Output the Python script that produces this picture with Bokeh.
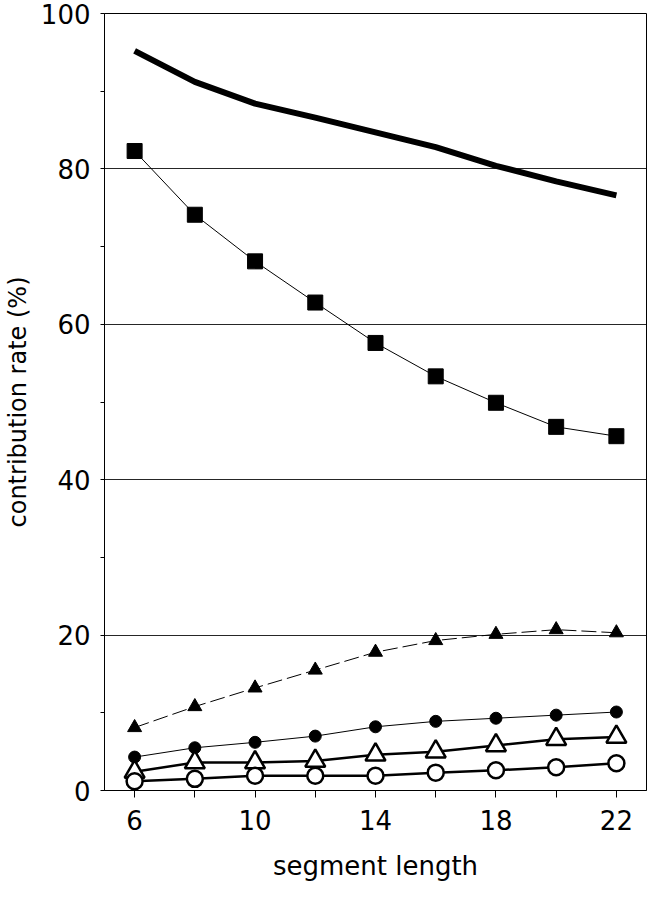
from bokeh.plotting import figure
from bokeh.models import Range1d, FixedTicker
from bokeh.embed import file_html
from bokeh.resources import INLINE

# ---- data ----
seg_len = [6, 8, 10, 12, 14, 16, 18, 20, 22]
total = [95.2, 91.2, 88.4, 86.6, 84.7, 82.8, 80.4, 78.4, 76.6]
squares = [82.3, 74.1, 68.1, 62.8, 57.6, 53.3, 49.9, 46.8, 45.6]
filled_tri = [8.1, 10.8, 13.2, 15.5, 17.8, 19.3, 20.1, 20.7, 20.3]
filled_circ = [4.3, 5.5, 6.2, 7.0, 8.2, 8.9, 9.3, 9.7, 10.1]
open_tri = [2.4, 3.6, 3.6, 3.8, 4.6, 5.0, 5.8, 6.6, 6.9]
open_circ = [1.2, 1.5, 1.9, 1.9, 1.9, 2.3, 2.6, 3.0, 3.5]

x_major = [6, 10, 14, 18, 22]
x_minor = [8, 12, 16, 20]
y_major = [0, 20, 40, 60, 80, 100]
y_minor = [10, 30, 50, 70, 90]

FONT = "DejaVu Sans"

p = figure(width=648, height=883, output_backend="svg", toolbar_location=None,
           x_range=Range1d(5, 23), y_range=Range1d(0, 100),
           min_border_left=99, min_border_right=2, min_border_top=13,
           min_border_bottom=40)
p.background_fill_color = "white"
p.border_fill_color = "white"
p.outline_line_color = "black"
p.outline_line_width = 1

# axes
p.xaxis.ticker = FixedTicker(ticks=x_major, minor_ticks=x_minor)
p.yaxis.ticker = FixedTicker(ticks=y_major, minor_ticks=y_minor)
for ax in (p.xaxis, p.yaxis):
    ax.axis_line_color = "black"
    ax.major_tick_line_color = "black"
    ax.minor_tick_line_color = "black"
    ax.major_tick_in = 0
    ax.minor_tick_in = 0
    ax.major_label_text_font = FONT
    ax.major_label_text_font_size = "26px"
    ax.major_label_text_color = "black"
    ax.major_label_text_line_height = 1.0
    ax.axis_label_text_font = FONT
    ax.axis_label_text_font_style = "normal"
    ax.axis_label_text_color = "black"
    ax.axis_label_text_line_height = 0.85

p.xaxis.major_tick_out = 7
p.xaxis.minor_tick_out = 7
p.xaxis.major_label_standoff = 12
p.xaxis.axis_label = "segment length"
p.xaxis.axis_label_text_font_size = "26px"
p.xaxis.axis_label_standoff = 18

p.yaxis.major_tick_out = 4
p.yaxis.minor_tick_out = 4
p.yaxis.major_label_standoff = 10
p.yaxis.axis_label = "contribution rate (%)"
p.yaxis.axis_label_text_font_size = "24px"
p.yaxis.axis_label_standoff = 6

p.xgrid.visible = False
p.ygrid.grid_line_color = "black"
p.ygrid.grid_line_width = 1
p.ygrid.grid_line_alpha = 0.85

# thick line, no markers
p.line(seg_len, total, line_color="black", line_width=6)

# squares
p.line(seg_len, squares, line_color="black", line_width=1)
p.scatter(seg_len, squares, marker="square", size=15,
          fill_color="black", line_color="black")

# filled triangles, dashed line
p.line(seg_len, filled_tri, line_color="black", line_width=1, line_dash="15 5")
p.scatter(seg_len, filled_tri, marker="triangle", size=14,
          fill_color="black", line_color="black")

# filled circles
p.line(seg_len, filled_circ, line_color="black", line_width=1)
p.scatter(seg_len, filled_circ, marker="circle", size=12,
          fill_color="black", line_color="black")

# open triangles
p.line(seg_len, open_tri, line_color="black", line_width=2.5)
p.scatter(seg_len, open_tri, marker="triangle", size=20,
          fill_color="white", line_color="black", line_width=2.5)

# open circles
p.line(seg_len, open_circ, line_color="black", line_width=2.5)
p.scatter(seg_len, open_circ, marker="circle", size=16,
          fill_color="white", line_color="black", line_width=2.5)

open("out.html", "w").write(file_html(p, INLINE))
